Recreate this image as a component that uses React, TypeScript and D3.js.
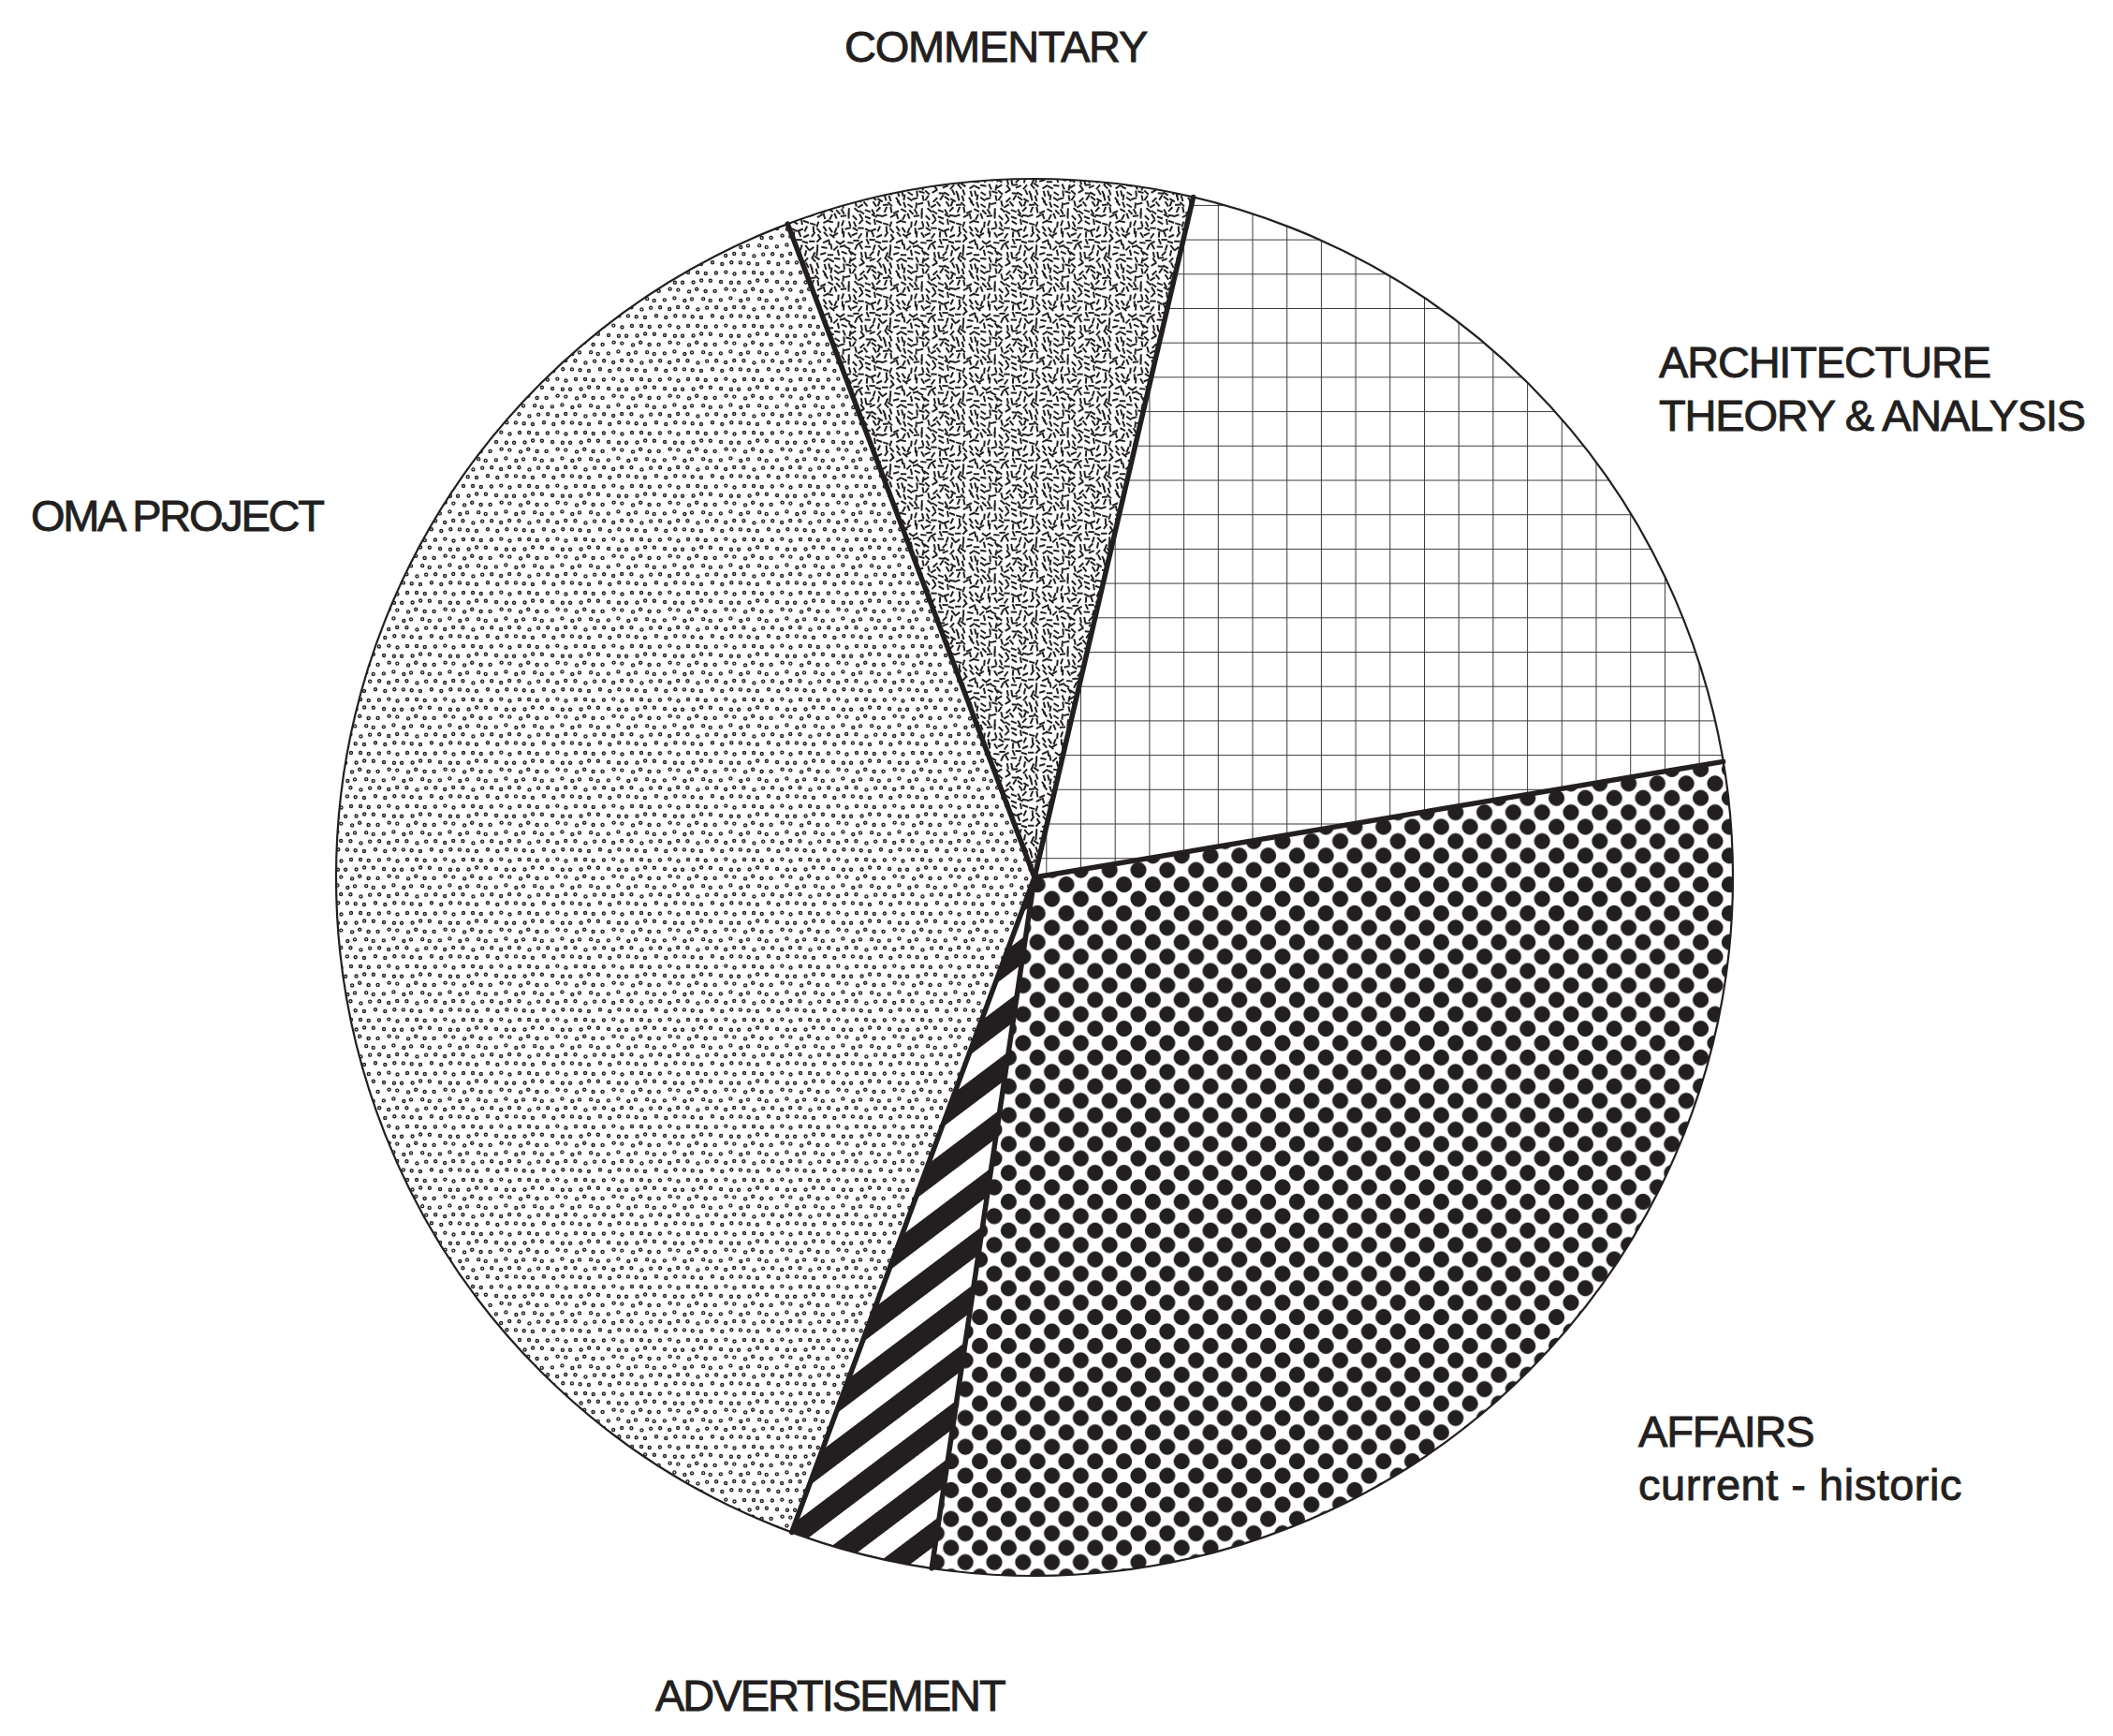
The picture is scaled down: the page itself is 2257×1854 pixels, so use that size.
import React from "react";
import * as d3 from "d3";

// slice order runs clockwise from the top-left edge of COMMENTARY
const categories = ["COMMENTARY", "ARCHITECTURE", "AFFAIRS", "ADVERTISEMENT", "OMA PROJECT"];
const shares = [9.4, 18.7, 30.0, 3.3, 38.6];
const patternIds = ["dashes", "grid", "dots", "stripes", "rings"];

const labelLines = [
  ["COMMENTARY"],
  ["ARCHITECTURE", "THEORY & ANALYSIS"],
  ["AFFAIRS", "current - historic"],
  ["ADVERTISEMENT"],
  ["OMA PROJECT"],
];

// where each label block sits (left x, first baseline) and per-line tracking
const labelLayout = [
  { x: 902, y: 66, track: [-1.2] },
  { x: 1772, y: 403, track: [-1.2, -1.2] },
  { x: 1750, y: 1545, track: [-1.2, 0.5] },
  { x: 700, y: 1827, track: [-2.0] },
  { x: 33, y: 567, track: [-2.3] },
];

const width = 2257;
const height = 1854;
const cx = 1105;
const cy = 937;
const radius = 746;
const ink = "#231f20";
const startDeg = -20.7;

type Slice = { name: string; value: number; pattern: string };

const slices: Slice[] = categories.map((name, i) => ({
  name,
  value: shares[i],
  pattern: patternIds[i],
}));

// small seeded generator, only used to scatter texture marks
function lcg(seed: number) {
  let s = seed;
  return () => {
    s = (s * 1664525 + 1013904223) % 4294967296;
    return s / 4294967296;
  };
}

function Patterns() {
  const rnd = lcg(7);
  const step = 6.5;
  const n = 12;
  const dashTile = step * n;
  const dashes: { x: number; y: number; a: number }[] = [];
  for (let r = 0; r < n; r++) {
    for (let c = 0; c < n; c++) {
      dashes.push({
        x: c * step + step / 2 + (rnd() - 0.5) * 3.5,
        y: r * step + step / 2 + (rnd() - 0.5) * 3.5,
        a: rnd() * 180,
      });
    }
  }

  const rnd2 = lcg(31);
  const rings: { x: number; y: number }[] = [];
  for (let r = 0; r < 6; r++) {
    for (let c = 0; c < 6; c++) {
      rings.push({
        x: c * 10 + (r % 2 ? 5 : 0) + (rnd2() - 0.5) * 3,
        y: r * 9.5 + (rnd2() - 0.5) * 3,
      });
    }
  }

  const grid = 36.7;
  const dot = 30.8;

  return (
    <defs>
      <pattern id="dashes" patternUnits="userSpaceOnUse" width={dashTile} height={dashTile}>
        <rect width={dashTile} height={dashTile} fill="#fff" />
        {dashes.map((d, i) =>
          [-dashTile, 0, dashTile].flatMap((ox) =>
            [-dashTile, 0, dashTile].map((oy) => (
              <line
                key={`${i}-${ox}-${oy}`}
                x1={-3.2}
                x2={3.2}
                y1={0}
                y2={0}
                stroke={ink}
                strokeWidth={2}
                transform={`translate(${d.x + ox},${d.y + oy}) rotate(${d.a})`}
              />
            ))
          )
        )}
      </pattern>

      <pattern id="grid" patternUnits="userSpaceOnUse" x={1150} y={823.3} width={grid} height={grid}>
        <rect width={grid} height={grid} fill="#fff" />
        <path d={`M0,0H${grid}M0,0V${grid}`} stroke="#3a3a3a" strokeWidth={2} fill="none" />
      </pattern>

      <pattern id="dots" patternUnits="userSpaceOnUse" x={1035} y={1563} width={dot} height={dot}>
        <rect width={dot} height={dot} fill="#fff" />
        {[
          [0, 0],
          [dot, 0],
          [0, dot],
          [dot, dot],
          [dot / 2, dot / 2],
        ].map(([x, y], i) => (
          <circle key={i} cx={x} cy={y} r={8.6} fill={ink} />
        ))}
      </pattern>

      <pattern
        id="stripes"
        patternUnits="userSpaceOnUse"
        width={44}
        height={44}
        patternTransform="rotate(-37)"
      >
        <rect width={44} height={44} fill="#fff" />
        <rect width={44} height={22} fill={ink} />
      </pattern>

      <pattern id="rings" patternUnits="userSpaceOnUse" width={60} height={57}>
        <rect width={60} height={57} fill="#fff" />
        {rings.map((p, i) =>
          [-60, 0, 60].flatMap((ox) =>
            [-57, 0, 57].map((oy) => (
              <circle
                key={`${i}-${ox}-${oy}`}
                cx={p.x + ox}
                cy={p.y + oy}
                r={1.5}
                fill="none"
                stroke={ink}
                strokeWidth={1.4}
              />
            ))
          )
        )}
      </pattern>
    </defs>
  );
}

export default function App() {
  const start = (startDeg * Math.PI) / 180;
  const pie = d3
    .pie<Slice>()
    .sort(null)
    .value((d) => d.value)
    .startAngle(start)
    .endAngle(start + 2 * Math.PI);
  const arcs = pie(slices);
  const arc = d3.arc<d3.PieArcDatum<Slice>>().innerRadius(0).outerRadius(radius);

  return (
    <svg
      width={width}
      height={height}
      style={{ position: "absolute", left: 0, top: 0, background: "#fff" }}
    >
      <Patterns />
      <rect width={width} height={height} fill="#fff" />

      <g transform={`translate(${cx},${cy})`}>
        {arcs.map((a) => (
          <path key={a.data.name} d={arc(a) ?? ""} fill={`url(#${a.data.pattern})`} />
        ))}
        <circle r={radius} fill="none" stroke={ink} strokeWidth={2.2} />
        {arcs.map((a) => (
          <line
            key={`edge-${a.data.name}`}
            x1={0}
            y1={0}
            x2={radius * Math.sin(a.startAngle)}
            y2={-radius * Math.cos(a.startAngle)}
            stroke={ink}
            strokeWidth={5.5}
            strokeLinecap="round"
          />
        ))}
      </g>

      {labelLines.map((lines, i) => (
        <text
          key={categories[i]}
          x={labelLayout[i].x}
          y={labelLayout[i].y}
          fill={ink}
          stroke={ink}
          strokeWidth={0.9}
          fontFamily="'Liberation Sans', Arial, sans-serif"
          fontSize={47}
        >
          {lines.map((t, j) => (
            <tspan
              key={j}
              x={labelLayout[i].x}
              dy={j === 0 ? 0 : 57}
              letterSpacing={labelLayout[i].track[j]}
            >
              {t}
            </tspan>
          ))}
        </text>
      ))}
    </svg>
  );
}
